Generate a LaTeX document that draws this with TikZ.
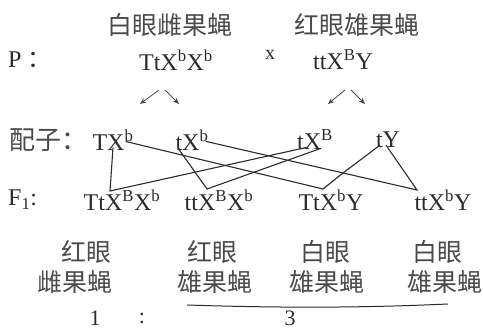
\documentclass[tikz,border=0pt]{standalone}
\usepackage{fontspec}
\setmainfont{Liberation Serif}
\newfontfamily\cjk{Noto Sans CJK SC}
\usetikzlibrary{arrows.meta,calc}
\definecolor{ink}{HTML}{2B2B2B}
\definecolor{soft}{HTML}{4A4A4A}
\tikzset{
  hanzi/.style={font=\cjk\fontsize{25}{27}\selectfont, text=soft, inner sep=0pt},
  geno/.style={font=\fontsize{24}{27}\selectfont, text=ink, inner sep=0pt},
  link/.style={draw=ink, line width=1.1pt, line join=miter},
  gamarrow/.style={-{Stealth[length=2.2mm,width=1.8mm]}, draw=soft, line width=0.8pt}
}
\newcommand{\gsup}[1]{\textsuperscript{#1}}
\begin{document}
\begin{tikzpicture}[x=1pt,y=-1pt]
  \useasboundingbox (0,0) rectangle (483,331);
  % parents
  \node[hanzi] (pflab) at (170,25) {白眼雌果蝇};
  \node[hanzi] (pmlab) at (357,25) {红眼雄果蝇};
  \node[geno, anchor=west] (prow) at (8,60) {P\hspace{6pt}{\cjk ：}};
  \node[geno, font=\fontsize{20}{22}\selectfont] (cross) at (270,55) {x};
  \node[geno] (pf) at (176,60) {TtX\gsup{b}X\gsup{b}};
  \node[geno] (pm) at (343,60) {ttX\gsup{B}Y};
  % gametes
  \node[hanzi, anchor=west, font=\cjk\fontsize{26}{28}\selectfont] (grow) at (9,140) {配子：};
  \node[geno] (g1) at (113,140) {TX\gsup{b}};
  \node[geno] (g2) at (192,140) {tX\gsup{b}};
  \node[geno] (g3) at (315,140) {tX\gsup{B}};
  \node[geno] (g4) at (388,140) {tY};
  % offspring
  \node[geno, anchor=west] (frow) at (8,200) {F\textsubscript{1}:};
  \node[geno] (f1) at (122,200) {TtX\gsup{B}X\gsup{b}};
  \node[geno] (f2) at (219,200) {ttX\gsup{B}X\gsup{b}};
  \node[geno] (f3) at (331,200) {TtX\gsup{b}Y};
  \node[geno] (f4) at (443,200) {ttX\gsup{b}Y};
  \node[hanzi] (e1) at (86,252) {红眼};
  \node[hanzi] (e2) at (212,252) {红眼};
  \node[hanzi] (e3) at (325,252) {白眼};
  \node[hanzi] (e4) at (437,252) {白眼};
  \node[hanzi] (s1) at (75,282) {雌果蝇};
  \node[hanzi] (s2) at (215,282) {雄果蝇};
  \node[hanzi] (s3) at (327,282) {雄果蝇};
  \node[hanzi] (s4) at (445,282) {雄果蝇};
  \node[geno, font=\fontsize{22}{24}\selectfont] (r1) at (95,318) {1};
  \node[geno, font=\fontsize{22}{24}\selectfont] (rc) at (142,318) {:};
  \node[geno, font=\fontsize{22}{24}\selectfont] (r3) at (290,318) {3};
  % arrow ends
  \coordinate (pfa) at (159,90);  \coordinate (pfb) at (165,90);
  \coordinate (pma) at (345,90);  \coordinate (pmb) at (351,90);
  \coordinate (pfl) at (140,104); \coordinate (pfr) at (179,104);
  \coordinate (pml) at (328,104); \coordinate (pmr) at (365,104);
  \draw[gamarrow] (pfa) -- (pfl);
  \draw[gamarrow] (pfb) -- (pfr);
  \draw[gamarrow] (pma) -- (pml);
  \draw[gamarrow] (pmb) -- (pmr);
  % where the lines meet
  \coordinate (a1) at (110,191);
  \coordinate (a2) at (207,189);
  \coordinate (a3) at (323,189);
  \coordinate (a4) at (417,190);
  \coordinate (bend) at (343,173);
  \draw[link] ($(g1.south)+(0,-3)$) -- (a1) -- ($(g3.south west)+(10,-3)$);
  \draw[link] ($(g2.south west)+(3,-2)$) -- (a2) -- ($(g3.south)+(6,-2)$);
  \draw[link] ($(g1.north east)+(-8,12)$) -- (a3) -- (bend) -- ($(g4.south)+(-8,-3)$);
  \draw[link] ($(g2.north east)+(-3,12)$) -- (a4) -- ($(g4.south)+(-2,-3)$);
  % ratio bar
  \coordinate (barl) at (187,305); \coordinate (barr) at (448,304);
  \draw[link, line width=1pt] (barl) .. controls (280,308) and (360,308) .. (barr);
\end{tikzpicture}
\end{document}
